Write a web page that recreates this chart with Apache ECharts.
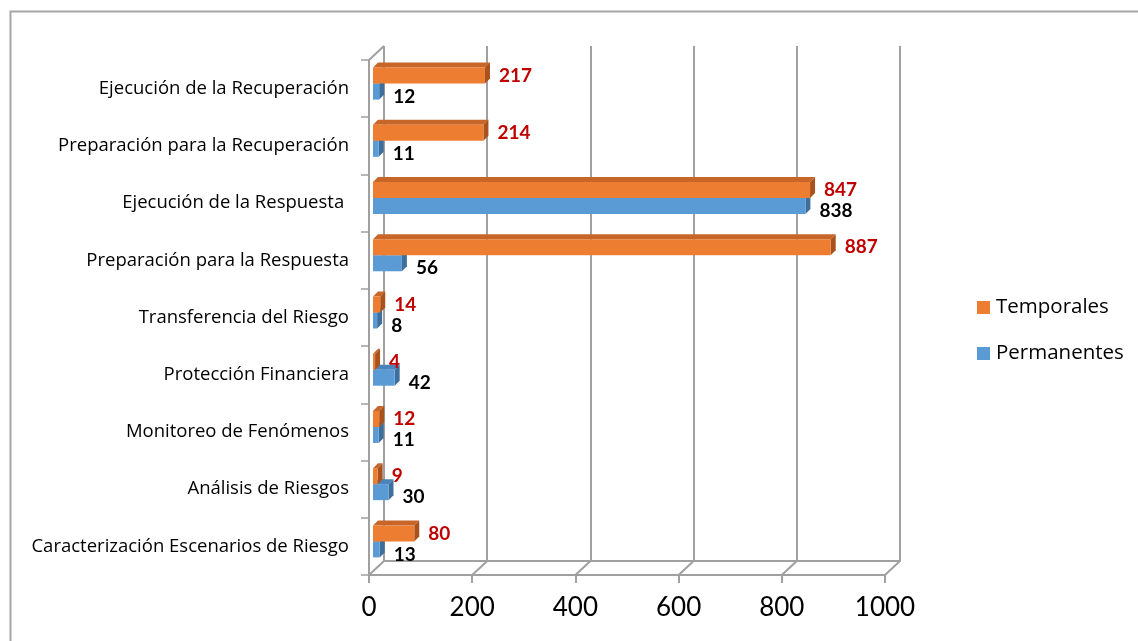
<!DOCTYPE html>
<html>
<head>
<meta charset="utf-8">
<script src="https://cdn.jsdelivr.net/npm/echarts@6/dist/echarts.min.js"></script>
<style>
html,body{margin:0;padding:0;background:#fff;}
#c{width:1138px;height:641px;}
</style>
</head>
<body>
<div id="c"></div>
<script>
const categories = [
  'Caracterización Escenarios de Riesgo',
  'Análisis de Riesgos',
  'Monitoreo de Fenómenos',
  'Protección Financiera',
  'Transferencia del Riesgo',
  'Preparación para la Respuesta',
  'Ejecución de la Respuesta ',
  'Preparación para la Recuperación',
  'Ejecución de la Recuperación'
];
const temporales = [80, 9, 12, 4, 14, 887, 847, 214, 217];
const permanentes = [13, 30, 11, 42, 8, 56, 838, 11, 12];
const xTicks = [0, 200, 400, 600, 800, 1000];

const FONT = 'Lato';
const CAT_FONT = 'Open Sans';
const GRID_COLOR = '#a0a0a0';
const ORANGE = '#ED7D31', ORANGE_TOP = '#C8662A', ORANGE_SIDE = '#A9521D';
const BLUE = '#5B9BD5', BLUE_TOP = '#4A84BA', BLUE_SIDE = '#3E6E9C';
const DEPTH_X = 15, DEPTH_Y = -14;   // wall depth
const BAR_DX = 4, BAR_DY = -5;       // bar placement in depth
const BAR_H = 16, BAR_D = 5;         // bar thickness and bar 3D depth

function barRender(isTemp, labelColor) {
  return function (params, api) {
    const ci = api.value(0), v = api.value(1);
    const p0 = api.coord([0, ci]);
    const p1 = api.coord([v, ci]);
    const x0 = p0[0] + BAR_DX, x1 = p1[0] + BAR_DX;
    const cy = p0[1] + BAR_DY;
    const y0 = isTemp ? cy - BAR_H : cy;
    const y1 = y0 + BAR_H;
    const front = isTemp ? ORANGE : BLUE;
    const top = isTemp ? ORANGE_TOP : BLUE_TOP;
    const side = isTemp ? ORANGE_SIDE : BLUE_SIDE;
    const children = [
      {type: 'polygon', shape: {points: [[x0, y0], [x0 + BAR_D, y0 - BAR_D], [x1 + BAR_D, y0 - BAR_D], [x1, y0]]}, style: {fill: top}},
      {type: 'polygon', shape: {points: [[x1, y0], [x1 + BAR_D, y0 - BAR_D], [x1 + BAR_D, y1 - BAR_D], [x1, y1]]}, style: {fill: side}},
      {type: 'rect', shape: {x: x0, y: y0, width: Math.max(x1 - x0, 0.5), height: BAR_H}, style: {fill: front}},
      {type: 'text', x: x1 + BAR_D + 9, y: (y0 + y1) / 2 + (isTemp ? 0 : 5),
        style: {text: String(v), fill: labelColor, font: 'bold 19px ' + FONT, verticalAlign: 'middle', align: 'left'}}
    ];
    return {type: 'group', children: children};
  };
}

const chart = echarts.init(document.getElementById('c'));
chart.setOption({
  animation: false,
  backgroundColor: '#fff',
  graphic: [{
    type: 'rect', left: 8, top: 9, shape: {width: 1300, height: 800},
    style: {fill: 'none', stroke: '#a6a6a6', lineWidth: 2}, silent: true
  }],
  legend: {
    data: ['Temporales', 'Permanentes'],
    orient: 'vertical', left: 972, top: 292,
    itemWidth: 13, itemHeight: 13, itemGap: 25, icon: 'rect',
    textStyle: {fontFamily: CAT_FONT, fontSize: 20.5, color: '#000', padding: [0, 0, 0, 1]}
  },
  grid: [
    {left: 369, top: 60, width: 516, height: 515},
    {left: 384, top: 46, width: 516, height: 515}
  ],
  xAxis: [
    {gridIndex: 0, type: 'value', min: 0, max: 1000, interval: 200,
      axisLine: {show: true, lineStyle: {color: GRID_COLOR, width: 2}},
      axisTick: {show: true, length: 8, lineStyle: {color: GRID_COLOR, width: 2}},
      splitLine: {show: false},
      axisLabel: {fontFamily: FONT, fontSize: 26, color: '#000', margin: 20,
        formatter: function (v) { return xTicks.indexOf(v) >= 0 ? String(v) : ''; }}},
    {gridIndex: 1, type: 'value', min: 0, max: 1000, interval: 200,
      axisLine: {show: true, onZero: false, lineStyle: {color: GRID_COLOR, width: 2}},
      axisTick: {show: false}, axisLabel: {show: false},
      splitLine: {show: true, lineStyle: {color: GRID_COLOR, width: 2}}}
  ],
  yAxis: [
    {gridIndex: 0, type: 'category', data: categories,
      axisLine: {show: true, lineStyle: {color: GRID_COLOR, width: 2}},
      axisTick: {show: true, length: 8, lineStyle: {color: GRID_COLOR, width: 1.5}},
      axisLabel: {fontFamily: CAT_FONT, fontSize: 18.5, color: '#000', margin: 20}},
    {gridIndex: 1, type: 'category', data: categories, show: false}
  ],
  series: [
    {name: 'Temporales', type: 'custom', xAxisIndex: 0, yAxisIndex: 0,
      itemStyle: {color: ORANGE}, z: 5,
      data: temporales.map((v, i) => [i, v]),
      encode: {x: 1, y: 0},
      renderItem: barRender(true, '#C00000')},
    {name: 'Permanentes', type: 'custom', xAxisIndex: 0, yAxisIndex: 0,
      itemStyle: {color: BLUE}, z: 4,
      data: permanentes.map((v, i) => [i, v]),
      encode: {x: 1, y: 0},
      renderItem: barRender(false, '#000')},
    {name: 'walls', type: 'custom', xAxisIndex: 0, yAxisIndex: 0, silent: true, z: 1,
      data: xTicks.map(v => [v]),
      encode: {x: 0},
      renderItem: function (params, api) {
        const cs = params.coordSys;
        const bottom = cs.y + cs.height;
        const x = api.coord([api.value(0), 0])[0];
        const children = [{type: 'line', shape: {x1: x, y1: bottom, x2: x + DEPTH_X, y2: bottom + DEPTH_Y},
          style: {stroke: GRID_COLOR, lineWidth: 2}}];
        if (params.dataIndex === 0) {
          children.push({type: 'line', shape: {x1: cs.x, y1: cs.y, x2: cs.x + DEPTH_X, y2: cs.y + DEPTH_Y},
            style: {stroke: GRID_COLOR, lineWidth: 2}});
        }
        return {type: 'group', children: children};
      }}
  ]
});
</script>
</body>
</html>
